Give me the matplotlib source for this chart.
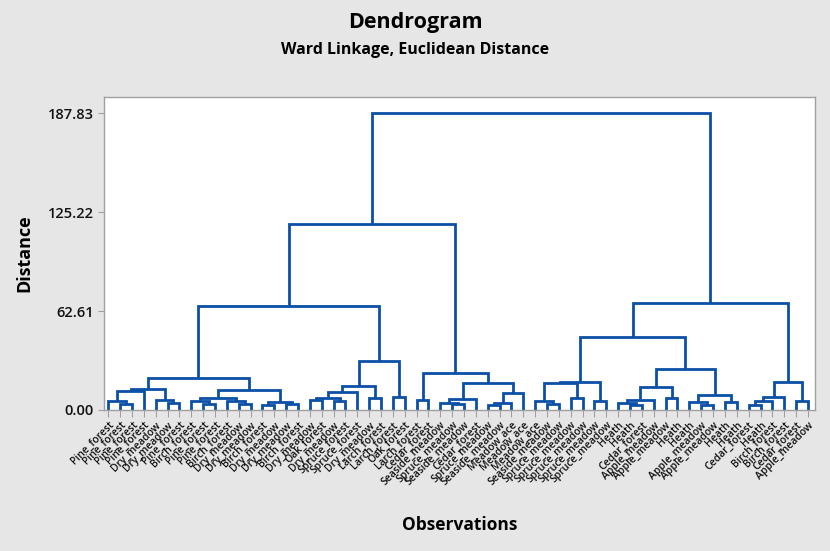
import numpy as np
import matplotlib.pyplot as plt

plt.rcParams['font.family'] = ['Open Sans', 'DejaVu Sans']

# leaf labels in display order
labels = ['Pine_forest', 'Pine_forest', 'Pine_forest', 'Pine_forest', 'Dry_meadow',
          'Dry_meadow', 'Pine_forest', 'Birch_forest', 'Pine_forest', 'Pine_forest',
          'Birch_forest', 'Dry_meadow', 'Dry_meadow', 'Birch_forest', 'Dry_meadow',
          'Dry_meadow', 'Birch_forest', 'Dry_meadow', 'Oak_forest', 'Dry_meadow',
          'Spruce_forest', 'Spruce_forest', 'Dry_meadow', 'Larch_forest', 'Larch_forest',
          'Oak_forest', 'Larch_forest', 'Cedar_forest', 'Seaside_meadow', 'Spruce_meadow',
          'Seaside_meadow', 'Cedar_forest', 'Spruce_meadow', 'Seaside_meadow', 'Meadow_ace',
          'Meadow_ace', 'Meadow_ace', 'Seaside_meadow', 'Spruce_meadow', 'Spruce_meadow',
          'Spruce_meadow', 'Spruce_meadow', 'Spruce_meadow', 'Heath', 'Heath',
          'Cedar_forest', 'Apple_meadow', 'Apple_meadow', 'Heath', 'Heath',
          'Apple_meadow', 'Apple_meadow', 'Heath', 'Heath', 'Cedar_forest',
          'Heath', 'Birch_forest', 'Birch_forest', 'Cedar_forest', 'Apple_meadow']

# merges (ids >= 60 refer to earlier merges), linkage style
merge_a = [1, 0, 61, 5, 4, 62, 8, 7, 11, 10, 67, 13, 15, 71, 70, 65,
           17, 19, 76, 78, 22, 79, 24, 81, 75, 26, 29, 28, 87, 32, 89, 90, 88, 85, 84,
           37, 36, 39, 96, 41, 98, 44, 43, 102, 47, 103, 50, 49, 52, 107, 105, 100,
           54, 112, 113, 58, 114, 111, 94]
merge_b = [2, 60, 3, 6, 63, 64, 9, 66, 12, 68, 69, 14, 16, 72, 73, 74,
           18, 20, 77, 21, 23, 80, 25, 82, 83, 27, 30, 86, 31, 33, 34, 35, 91, 92, 93,
           38, 95, 40, 97, 42, 99, 45, 101, 46, 48, 104, 51, 106, 53, 108, 109, 110,
           55, 56, 57, 59, 115, 116, 117]
merge_h = [4.0, 6.0, 12.0, 4.4, 6.2, 13.3, 4.0, 6.0, 3.6, 5.8, 7.3, 3.2, 3.6, 5.3, 12.6, 20.2,
           6.5, 6.0, 7.8, 11.4, 7.8, 15.2, 8.4, 31.0, 65.8, 6.3, 3.5, 4.5, 7.0, 3.0, 4.2, 10.7,
           17.0, 23.4, 117.6,
           3.5, 5.5, 7.6, 17.2, 6.0, 17.7, 3.0, 4.5, 6.3, 7.6, 14.5, 3.0, 5.0, 5.0, 9.5,
           26.0, 46.0, 3.0, 5.7, 8.2, 6.0, 17.7, 67.7, 187.83]

ytick_vals = [0.0, 62.61, 125.22, 187.83]

n = len(labels)
line_col = '#0b4fa6'

fig = plt.figure(figsize=(8.3, 5.51), dpi=100)
fig.patch.set_facecolor('#e6e6e6')
ax = fig.add_axes([0.1253, 0.2559, 0.8567, 0.5681])
ax.set_facecolor('white')

xpos = list(range(n))
hpos = [0.0] * n
for a, b, h in zip(merge_a, merge_b, merge_h):
    xa, xb = xpos[a], xpos[b]
    ax.plot([xa, xa, xb, xb], [hpos[a], h, h, hpos[b]], color=line_col,
            lw=2.0, solid_joinstyle='miter', solid_capstyle='butt')
    xpos.append((xa + xb) / 2)
    hpos.append(h)

ax.set_xlim(-0.36, n - 0.4)
ax.set_ylim(0, 198)
ax.set_yticks(ytick_vals)
ax.set_yticklabels(['%.2f' % v for v in ytick_vals], fontsize=10.5, fontweight='semibold')
ax.set_xticks(range(n))
ax.set_xticklabels(labels, rotation=45, ha='right', rotation_mode='anchor',
                   fontsize=7.5, fontweight='semibold', color='#111111')
ax.tick_params(axis='x', length=5, color='#a0a0a0', pad=2)
ax.tick_params(axis='y', length=4, color='#a0a0a0', labelcolor='#111111')
for s in ax.spines.values():
    s.set_color('#a0a0a0')
    s.set_linewidth(1.0)

ax.set_ylabel('Distance', fontsize=13, fontweight='bold', labelpad=10)
ax.set_xlabel('Observations', fontsize=12.5, fontweight='bold', labelpad=20)
fig.text(0.5, 0.960, 'Dendrogram', ha='center', va='center', fontsize=15.5, fontweight='bold')
fig.text(0.5, 0.910, 'Ward Linkage, Euclidean Distance', ha='center', va='center',
         fontsize=11.5, fontweight='bold')

fig.savefig('out.png', dpi=100, facecolor=fig.get_facecolor())
